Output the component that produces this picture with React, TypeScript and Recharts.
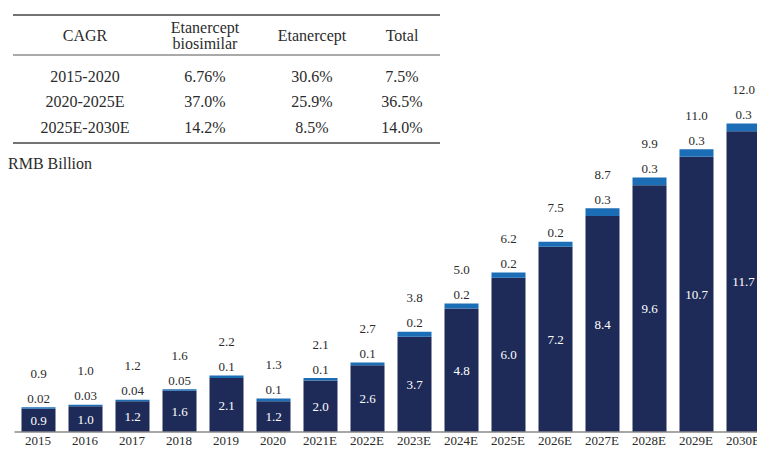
import React from "react";
import { BarChart, Bar, XAxis, YAxis, LabelList } from "recharts";

const years = ["2015","2016","2017","2018","2019","2020","2021E","2022E","2023E","2024E","2025E","2026E","2027E","2028E","2029E","2030E"];
const biosimilar = [0.9,1.0,1.2,1.6,2.1,1.2,2.0,2.6,3.7,4.8,6.0,7.2,8.4,9.6,10.7,11.7];
const etanercept = [0.02,0.03,0.04,0.05,0.1,0.1,0.1,0.1,0.2,0.2,0.2,0.2,0.3,0.3,0.3,0.3];
const totals = [0.9,1.0,1.2,1.6,2.2,1.3,2.1,2.7,3.8,5.0,6.2,7.5,8.7,9.9,11.0,12.0];

const etLabels = ["0.02","0.03","0.04","0.05","0.1","0.1","0.1","0.1","0.2","0.2","0.2","0.2","0.3","0.3","0.3","0.3"];

const cagrPeriods = ["2015-2020","2020-2025E","2025E-2030E"];
const cagrBiosimilar = ["6.76%","37.0%","14.2%"];
const cagrEtanercept = ["30.6%","25.9%","8.5%"];
const cagrTotal = ["7.5%","36.5%","14.0%"];

const data = years.map((y, i) => ({
  year: y,
  biosimilar: biosimilar[i],
  etanercept: etanercept[i],
  total: totals[i],
  etLabel: etLabels[i],
}));

const FONT = "Liberation Serif";
const DARK = "#1e2b59";
const LIGHT = "#1b6db6";
const TEXT = "#2b2b2b";
const fs = { fontFamily: FONT } as React.CSSProperties;

const TopLabel = (props: any) => {
  const { x, y, width, value } = props;
  return (
    <text x={x + width / 2} y={y - 9} textAnchor="middle" dominantBaseline="central" fill={TEXT} fontSize={13} style={fs}>
      {value}
    </text>
  );
};

const TotalLabel = (props: any) => {
  const { x, y, width, value } = props;
  return (
    <text x={x + width / 2} y={y - 34} textAnchor="middle" dominantBaseline="central" fill={TEXT} fontSize={13} style={fs}>
      {Number(value).toFixed(1)}
    </text>
  );
};

const MidLabel = (props: any) => {
  const { x, y, width, height, value } = props;
  return (
    <text x={x + width / 2} y={y + height / 2} textAnchor="middle" dominantBaseline="central" fill="#ffffff" fontSize={13} style={fs}>
      {Number(value).toFixed(1)}
    </text>
  );
};

const XTick = (props: any) => {
  const { x, y, payload } = props;
  return (
    <text x={x} y={y + 6} textAnchor="middle" dominantBaseline="central" fill={TEXT} fontSize={13} style={fs}>
      {payload.value}
    </text>
  );
};

const colX = [85, 205, 312, 402];
const rowY = [76, 101, 127];

const Table = () => (
  <svg width={460} height={180} style={{ position: "absolute", left: 0, top: 0 }}>
    <line x1={13} x2={440} y1={15} y2={15} stroke="#444" strokeWidth={1.5} />
    <line x1={13} x2={440} y1={55} y2={55} stroke="#555" strokeWidth={1} />
    <line x1={13} x2={440} y1={143} y2={143} stroke="#444" strokeWidth={1.5} />
    <g style={fs} fontSize={16} fill={TEXT} textAnchor="middle">
      <text x={colX[0]} y={35} dominantBaseline="central">CAGR</text>
      <text x={colX[1]} y={27} dominantBaseline="central">Etanercept</text>
      <text x={colX[1]} y={43} dominantBaseline="central">biosimilar</text>
      <text x={colX[2]} y={35} dominantBaseline="central">Etanercept</text>
      <text x={colX[3]} y={35} dominantBaseline="central">Total</text>
      {cagrPeriods.map((p, i) => (
        <g key={p}>
          <text x={colX[0]} y={rowY[i]} dominantBaseline="central">{p}</text>
          <text x={colX[1]} y={rowY[i]} dominantBaseline="central">{cagrBiosimilar[i]}</text>
          <text x={colX[2]} y={rowY[i]} dominantBaseline="central">{cagrEtanercept[i]}</text>
          <text x={colX[3]} y={rowY[i]} dominantBaseline="central">{cagrTotal[i]}</text>
        </g>
      ))}
    </g>
    <text x={8} y={163} dominantBaseline="central" style={fs} fontSize={16} fill={TEXT}>RMB Billion</text>
  </svg>
);

export default function App() {
  return (
    <div style={{ position: "absolute", left: 0, top: 0, width: 757, height: 450, overflow: "hidden", background: "#fff" }}>
      <div style={{ position: "absolute", left: 0, top: 0 }}>
        <BarChart width={770} height={450} data={data} margin={{ top: 0, right: 3.5, bottom: 0, left: 14.5 }} barSize={34}>
          <XAxis
            dataKey="year"
            axisLine={{ stroke: "#8a8a8a", strokeWidth: 1.5 }}
            tickLine={false}
            tickSize={0}
            height={18}
            interval={0}
            tick={<XTick />}
          />
          <YAxis hide domain={[0, 16.8]} allowDataOverflow />
          <Bar dataKey="biosimilar" stackId="a" fill={DARK} isAnimationActive={false}>
            <LabelList dataKey="biosimilar" content={MidLabel} />
          </Bar>
          <Bar dataKey="etanercept" stackId="a" fill={LIGHT} isAnimationActive={false} minPointSize={1.5}>
            <LabelList dataKey="etLabel" content={TopLabel} />
            <LabelList dataKey="total" content={TotalLabel} />
          </Bar>
        </BarChart>
      </div>
      <Table />
    </div>
  );
}
